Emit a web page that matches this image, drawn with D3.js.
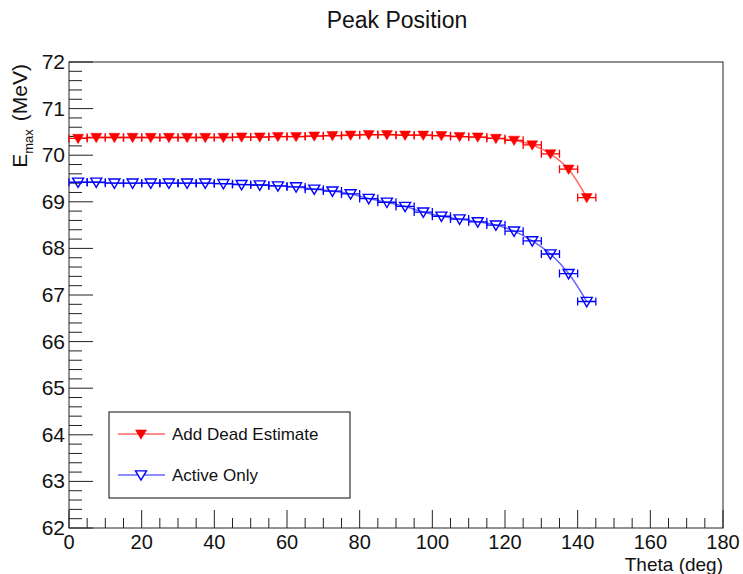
<!DOCTYPE html>
<html><head><meta charset="utf-8">
<script src="https://cdn.jsdelivr.net/npm/d3@7"></script>
<style>body{margin:0;background:#fff}text{font-family:"Liberation Sans",Arial,sans-serif}</style>
</head><body><svg id="c" width="743" height="574"></svg>
<script>
const theta = [2.5,7.5,12.5,17.5,22.5,27.5,32.5,37.5,42.5,47.5,52.5,57.5,62.5,67.5,72.5,77.5,82.5,87.5,92.5,97.5,102.5,107.5,112.5,117.5,122.5,127.5,132.5,137.5,142.5];
const thetaErr = 2.5;
const deadEstimate = [70.36,70.38,70.38,70.38,70.38,70.38,70.38,70.38,70.38,70.39,70.39,70.40,70.40,70.41,70.42,70.43,70.44,70.44,70.43,70.43,70.42,70.40,70.39,70.36,70.32,70.22,70.03,69.70,69.09];
const activeOnly = [69.42,69.42,69.40,69.40,69.40,69.40,69.40,69.40,69.39,69.37,69.36,69.34,69.32,69.27,69.23,69.17,69.07,68.99,68.90,68.78,68.69,68.63,68.57,68.50,68.37,68.16,67.88,67.46,66.86];
const seriesNames = ["Add Dead Estimate","Active Only"];
const xTicks = [0,20,40,60,80,100,120,140,160,180];
const yTicks = [62,63,64,65,66,67,68,69,70,71,72];

const svg = d3.select("#c");
const L=69, R=723, T=62, B=528;
const x = d3.scaleLinear().domain([0,180]).range([L,R]);
const y = d3.scaleLinear().domain([62,72]).range([B,T]);
const axisCol="#222";

svg.append("rect").attr("x",L).attr("y",T).attr("width",R-L).attr("height",B-T)
  .attr("fill","none").attr("stroke",axisCol).attr("stroke-width",1);

const xMinor = d3.range(0,181,5);
svg.append("g").selectAll("line").data(xMinor).join("line")
  .attr("x1",d=>x(d)).attr("x2",d=>x(d)).attr("y1",B)
  .attr("y2",d=>B-(d%20===0?18:10)).attr("stroke",axisCol);
svg.append("g").selectAll("text").data(xTicks).join("text")
  .attr("x",d=>x(d)).attr("y",B+21).attr("text-anchor","middle")
  .attr("font-size",20).attr("fill","#111").text(d=>d);
const yMinor = d3.range(62,72.001,0.2).map(v=>Math.round(v*10)/10);
svg.append("g").selectAll("line").data(yMinor).join("line")
  .attr("y1",d=>y(d)).attr("y2",d=>y(d)).attr("x1",L)
  .attr("x2",d=>L+(Math.abs(d-Math.round(d))<1e-6?24:13)).attr("stroke",axisCol);
svg.append("g").selectAll("text").data(yTicks).join("text")
  .attr("x",L-4).attr("y",d=>y(d)+7).attr("text-anchor","end")
  .attr("font-size",21).attr("fill","#111").text(d=>d);

svg.append("text").attr("x",397).attr("y",28).attr("text-anchor","middle")
  .attr("font-size",23).attr("fill","#111").text("Peak Position");
svg.append("text").attr("x",R).attr("y",571).attr("text-anchor","end")
  .attr("font-size",19).attr("fill","#111").text("Theta (deg)");
const yt = svg.append("text").attr("transform","translate(27,64) rotate(-90)")
  .attr("text-anchor","end").attr("font-size",21).attr("fill","#111");
yt.append("tspan").text("E");
yt.append("tspan").attr("font-size",13).attr("dy",6).text("max");
yt.append("tspan").attr("dy",-6).attr("dx",8).text("(MeV)");

const series = [
  {name:seriesNames[0], vals:deadEstimate, col:"#ff0000", filled:true},
  {name:seriesNames[1], vals:activeOnly, col:"#0000ff", filled:false}
];
const tri = (cx,cy,s)=>`M${cx-s},${cy-s*0.75}L${cx+s},${cy-s*0.75}L${cx},${cy+s*0.95}Z`;
const line = d3.line().x(d=>x(d[0])).y(d=>y(d[1])).curve(d3.curveCatmullRom);

series.forEach(s=>{
  const pts = theta.map((t,i)=>[t,s.vals[i]]);
  const g = svg.append("g");
  g.append("path").attr("d",line(pts)).attr("fill","none")
    .attr("stroke",s.col).attr("stroke-opacity",0.6).attr("stroke-width",1.5);
  g.selectAll(".eb").data(pts).join("path")
    .attr("d",d=>{const x0=x(d[0]-thetaErr),x1=x(d[0]+thetaErr),yy=y(d[1]);
      return `M${x0},${yy}L${x1},${yy}M${x0},${yy-4}L${x0},${yy+4}M${x1},${yy-4}L${x1},${yy+4}`;})
    .attr("stroke",s.col).attr("stroke-width",1.3).attr("fill","none");
  g.selectAll(".m").data(pts).join("path")
    .attr("d",d=>tri(x(d[0]),y(d[1]),5.5))
    .attr("fill",s.filled?s.col:"#fff").attr("fill-opacity",s.filled?1:0)
    .attr("stroke",s.col).attr("stroke-width",s.filled?0.5:1.4);
});

const lg = svg.append("g");
lg.append("rect").attr("x",109).attr("y",412).attr("width",241).attr("height",86)
  .attr("fill","#fff").attr("stroke","#333").attr("stroke-width",1.2);
series.forEach((s,i)=>{
  const yy = 434+i*41;
  lg.append("line").attr("x1",118).attr("x2",165).attr("y1",yy).attr("y2",yy)
    .attr("stroke",s.col).attr("stroke-opacity",0.6).attr("stroke-width",1.5);
  lg.append("path").attr("d",tri(141,yy,5.5))
    .attr("fill",s.filled?s.col:"#fff").attr("stroke",s.col).attr("stroke-width",s.filled?0.5:1.4);
  lg.append("text").attr("x",172).attr("y",yy+6).attr("font-size",17).attr("fill","#111").text(s.name);
});
</script></body></html>
